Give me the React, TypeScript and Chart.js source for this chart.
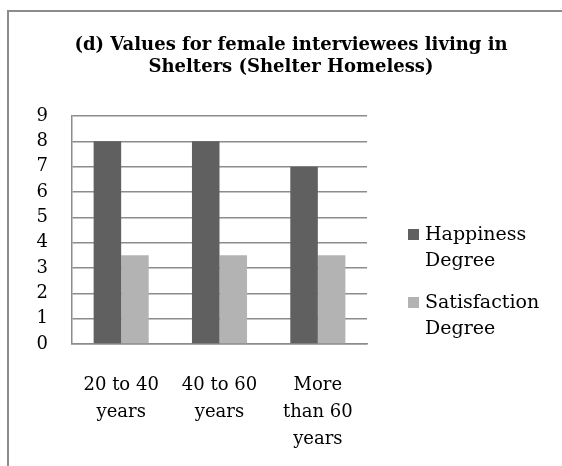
import React, { useEffect, useRef } from "react";
import { Chart, registerables } from "chart.js";

Chart.register(...registerables);

const categories: string[][] = [
  ["20 to 40", "years"],
  ["40 to 60", "years"],
  ["More", "than 60", "years"],
];
const happiness: number[] = [8, 8, 7];
const satisfaction: number[] = [3.5, 3.5, 3.5];
const seriesNames: string[][] = [
  ["Happiness", "Degree"],
  ["Satisfaction", "Degree"],
];
const titleLines: string[] = [
  "(d) Values for female interviewees living in",
  "Shelters (Shelter Homeless)",
];
const darkColor = "#606060";
const lightColor = "#b3b3b3";
const gridColor = "#8c8c8c";

const legendPlugin = {
  id: "sideLegend",
  afterDraw(chart: any) {
    const ctx = chart.ctx;
    const ds = chart.data.datasets;
    ctx.save();
    ctx.font = "19px 'DejaVu Serif'";
    ctx.textBaseline = "alphabetic";
    ctx.textAlign = "left";
    ds.forEach((d: any, i: number) => {
      const base = 240 + 68 * i;
      ctx.fillStyle = d.backgroundColor;
      ctx.fillRect(408, base - 11, 11, 11);
      ctx.fillStyle = "#000";
      const lines: string[] = d.legendLines;
      lines.forEach((t, j) => ctx.fillText(t, 425, base + 26 * j));
    });
    ctx.restore();
  },
};

export default function App() {
  const ref = useRef<HTMLCanvasElement>(null);
  useEffect(() => {
    if (!ref.current) return;
    const chart = new Chart(ref.current, {
      type: "bar",
      data: {
        labels: categories as any,
        datasets: [
          {
            label: seriesNames[0].join(" "),
            legendLines: seriesNames[0],
            data: happiness,
            backgroundColor: darkColor,
            categoryPercentage: 0.56,
            barPercentage: 1,
          } as any,
          {
            label: seriesNames[1].join(" "),
            legendLines: seriesNames[1],
            data: satisfaction,
            backgroundColor: lightColor,
            categoryPercentage: 0.56,
            barPercentage: 1,
          } as any,
        ],
      },
      options: {
        animation: false,
        responsive: false,
        maintainAspectRatio: false,
        layout: { padding: { left: 0, right: 0, top: 0, bottom: 0 } },
        plugins: {
          legend: { display: false },
          tooltip: { enabled: false },
          title: {
            display: true,
            text: titleLines,
            color: "#000",
            font: { family: "'DejaVu Serif'", size: 18, weight: "bold", lineHeight: 22 / 18 },
            padding: { top: 34, bottom: 38 },
          },
        },
        scales: {
          x: {
            grid: { display: false, drawTicks: false },
            border: { display: true, color: gridColor, width: 1.5 },
            ticks: {
              color: "#000",
              font: { family: "'DejaVu Serif'", size: 18, lineHeight: 1.5 },
              padding: 28,
              maxRotation: 0,
              autoSkip: false,
            },
          },
          y: {
            min: 0,
            max: 9,
            afterFit(scale: any) {
              scale.width = 72;
            },
            grid: { color: gridColor, lineWidth: 1.5, drawTicks: false },
            border: { display: true, color: gridColor, width: 1.5 },
            ticks: {
              stepSize: 1,
              autoSkip: false,
              color: "#000",
              font: { family: "'DejaVu Serif'", size: 18 },
              padding: 24,
            },
          },
          legendSpace: {
            type: "linear",
            position: "right",
            display: true,
            afterFit(scale: any) {
              scale.width = 215;
            },
            grid: { display: false, drawTicks: false },
            border: { display: false },
            ticks: { display: false },
          },
        } as any,
      },
      plugins: [legendPlugin],
    });
    return () => chart.destroy();
  }, []);

  return (
    <div style={{ position: "fixed", left: 0, top: 0, width: 562, height: 466, overflow: "hidden", background: "#fff" }}>
      <div
        style={{
          position: "absolute",
          left: 7,
          top: 10,
          width: 800,
          height: 800,
          borderLeft: "2px solid #8c8c8c",
          borderTop: "2px solid #8c8c8c",
        }}
      />
      <canvas
        ref={ref}
        width={582}
        height={481}
        style={{ position: "absolute", left: 0, top: 0, width: 582, height: 481 }}
      />
    </div>
  );
}
